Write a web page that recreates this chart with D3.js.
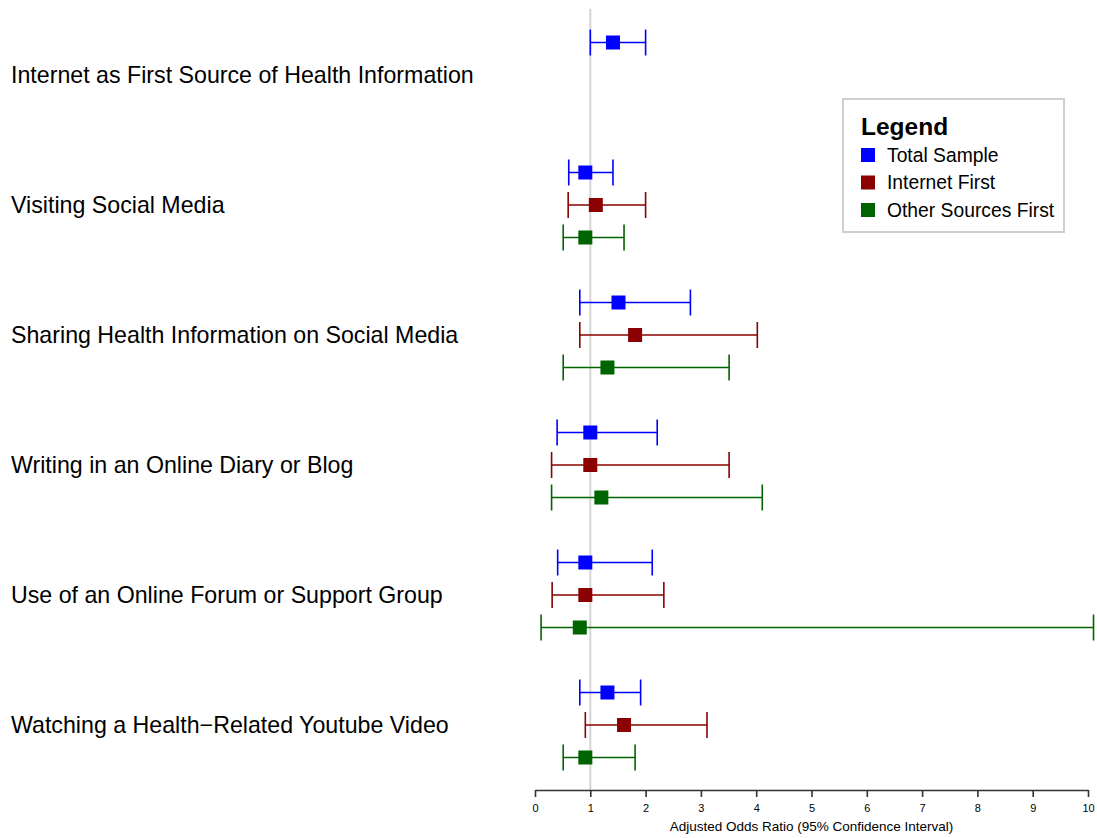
<!DOCTYPE html>
<html>
<head>
<meta charset="utf-8">
<script src="https://cdn.jsdelivr.net/npm/d3@7"></script>
<style>
  html, body { margin: 0; padding: 0; background: #fff; }
  svg { display: block; font-family: "Liberation Sans", Arial, Helvetica, sans-serif; }
</style>
</head>
<body>
<svg id="chart" width="1097" height="838"></svg>
<script>
// Outcomes (one row group each)
const categories = [
  "Internet as First Source of Health Information",
  "Visiting Social Media",
  "Sharing Health Information on Social Media",
  "Writing in an Online Diary or Blog",
  "Use of an Online Forum or Support Group",
  "Watching a Health\u2212Related Youtube Video"
];

const seriesNames = ["Total Sample", "Internet First", "Other Sources First"];
const seriesColors = ["#0000ff", "#8b0000", "#006400"];

// Adjusted odds ratios with 95% CI; null where the subgroup was not modelled
const totalOR    = [1.41, 0.91, 1.51, 1.00, 0.91, 1.31];
const totalLow   = [1.00, 0.61, 0.81, 0.40, 0.41, 0.81];
const totalHigh  = [2.00, 1.41, 2.81, 2.21, 2.12, 1.91];

const internetOR   = [null, 1.10, 1.81, 1.00, 0.91, 1.61];
const internetLow  = [null, 0.60, 0.81, 0.30, 0.31, 0.91];
const internetHigh = [null, 2.00, 4.02, 3.51, 2.33, 3.11];

const otherOR   = [null, 0.91, 1.31, 1.20, 0.81, 0.91];
const otherLow  = [null, 0.51, 0.51, 0.30, 0.11, 0.51];
const otherHigh = [null, 1.61, 3.51, 4.11, 10.10, 1.81];

const xTicks = [0, 1, 2, 3, 4, 5, 6, 7, 8, 9, 10];

const svg = d3.select("#chart");

const x = d3.scaleLinear().domain([0, 10]).range([535, 1088]);
const yGroup = d3.scalePoint().domain(categories).range([75, 725]);
const ySeries = d3.scalePoint().domain(seriesNames).range([-32.5, 32.5]);
const color = d3.scaleOrdinal().domain(seriesNames).range(seriesColors);

// Flatten into drawable rows
const seriesData = [
  [totalOR, totalLow, totalHigh],
  [internetOR, internetLow, internetHigh],
  [otherOR, otherLow, otherHigh]
];
const rows = [];
seriesNames.forEach((s, si) => {
  const [est, lo, hi] = seriesData[si];
  categories.forEach((c, ci) => {
    if (est[ci] == null) return;
    rows.push({ series: s, cat: ci, est: est[ci], lo: lo[ci], hi: hi[ci] });
  });
});
function rowY(d) {
  return yGroup(categories[d.cat]) + ySeries(d.series);
}

// Reference line at OR = 1
svg.append("line")
  .attr("x1", x(1)).attr("x2", x(1))
  .attr("y1", 9).attr("y2", 790)
  .attr("stroke", "#d4d4d4").attr("stroke-width", 2);

// Category labels
svg.append("g").selectAll("text")
  .data(categories)
  .join("text")
  .attr("x", 11)
  .attr("y", d => yGroup(d))
  .attr("dy", "0.36em")
  .attr("font-size", 23.2)
  .attr("fill", "#000")
  .text(d => d);

// Confidence intervals
const ci = svg.append("g").selectAll("g")
  .data(rows)
  .join("g")
  .attr("stroke", d => color(d.series))
  .attr("stroke-width", 1.6);

ci.append("line")
  .attr("x1", d => x(d.lo)).attr("x2", d => x(d.hi))
  .attr("y1", rowY).attr("y2", rowY);
ci.append("line")
  .attr("x1", d => x(d.lo)).attr("x2", d => x(d.lo))
  .attr("y1", d => rowY(d) - 13).attr("y2", d => rowY(d) + 13);
ci.append("line")
  .attr("x1", d => x(d.hi)).attr("x2", d => x(d.hi))
  .attr("y1", d => rowY(d) - 13).attr("y2", d => rowY(d) + 13);

// Point estimates
const sq = 14;
svg.append("g").selectAll("rect")
  .data(rows)
  .join("rect")
  .attr("x", d => x(d.est) - sq / 2)
  .attr("y", d => rowY(d) - sq / 2)
  .attr("width", sq).attr("height", sq)
  .attr("fill", d => color(d.series));

// X axis
const axis = svg.append("g")
  .attr("transform", "translate(0,790)")
  .call(d3.axisBottom(x).tickValues(xTicks).tickSize(7).tickPadding(7).tickSizeOuter(0));
axis.select(".domain").attr("stroke", "#333").attr("stroke-width", 1.6);
axis.selectAll(".tick line").attr("stroke", "#333").attr("stroke-width", 1.6);
axis.selectAll(".tick text")
  .attr("font-family", "Liberation Sans, Arial, sans-serif")
  .attr("font-size", 11).attr("fill", "#000");

svg.append("text")
  .attr("x", x(5)).attr("y", 831)
  .attr("text-anchor", "middle")
  .attr("font-size", 13.5)
  .text("Adjusted Odds Ratio (95% Confidence Interval)");

// Legend
const lg = svg.append("g");
lg.append("rect")
  .attr("x", 843).attr("y", 99)
  .attr("width", 221).attr("height", 133)
  .attr("fill", "#fff")
  .attr("stroke", "#cfcfcf").attr("stroke-width", 2);
lg.append("text")
  .attr("x", 861).attr("y", 135)
  .attr("font-size", 24.5).attr("font-weight", "bold")
  .text("Legend");
const items = lg.selectAll("g.item")
  .data(seriesNames)
  .join("g")
  .attr("class", "item")
  .attr("transform", (d, i) => `translate(0,${155 + i * 27.5})`);
items.append("rect")
  .attr("x", 861).attr("y", -7)
  .attr("width", 14).attr("height", 14)
  .attr("fill", d => color(d));
items.append("text")
  .attr("x", 887).attr("y", 0)
  .attr("dy", "0.36em")
  .attr("font-size", 19.3)
  .text(d => d);
</script>
</body>
</html>
